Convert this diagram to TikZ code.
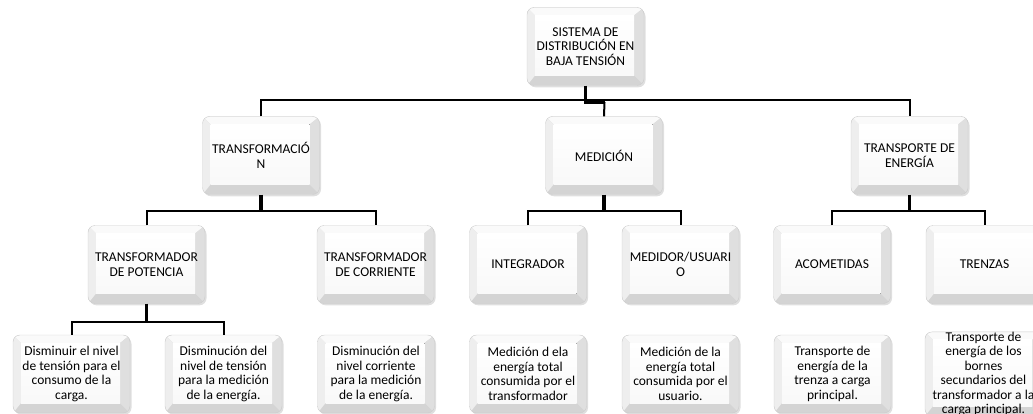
\documentclass[tikz,border=0pt]{standalone}
\usepackage{fontspec}
\setmainfont{Carlito}
\usetikzlibrary{shadows}
\tikzset{
  bev/.style={rectangle, rounded corners=7pt, minimum width=117pt, minimum height=78pt,
    inner sep=0pt, align=center, font=\fontsize{13.5}{14.5}\selectfont,
    draw=gray!40, line width=0.4pt,
    drop shadow={shadow xshift=1.5pt, shadow yshift=-1.8pt, opacity=0.25, fill=gray},
    path picture={
      \begin{scope}[sharp corners]
      \coordinate (pNW) at (path picture bounding box.north west);
      \coordinate (pNE) at (path picture bounding box.north east);
      \coordinate (pSW) at (path picture bounding box.south west);
      \coordinate (pSE) at (path picture bounding box.south east);
      \coordinate (iNW) at ([shift={(8,8)}]pNW);
      \coordinate (iNE) at ([shift={(-10,8)}]pNE);
      \coordinate (iSW) at ([shift={(8,-10)}]pSW);
      \coordinate (iSE) at ([shift={(-10,-10)}]pSE);
      \fill[gray!34] (pNW) rectangle (pSE);
      \fill[gray!4] (pNW) -- (pNE) -- (iNE) -- (iNW) -- cycle;
      \fill[gray!13] (pNW) -- (iNW) -- (iSW) -- (pSW) -- cycle;
      \fill[gray!25] (pNE) -- (pSE) -- (iSE) -- (iNE) -- cycle;
      \fill[top color=white, bottom color=gray!5] (iNW) rectangle (iSE);
      \end{scope}
    }},
  bus/.style={draw=black, line width=2pt},
  stem/.style={draw=black, line width=3.5pt},
}
\begin{document}
\begin{tikzpicture}[x=1pt,y=-1pt]
\useasboundingbox (0,0) rectangle (1033,414);
\clip (0,0) rectangle (1033,414);
% level 1
\node[bev] (root) at (585.5,46.5) {SISTEMA DE\\DISTRIBUCIÓN EN\\BAJA TENSIÓN};
% level 2
\node[bev] (trf) at (261,155.5) {TRANSFORMACIÓ\\N};
\node[bev] (med) at (604,155.5) {MEDICIÓN};
\node[bev] (trp) at (909.5,155.5) {TRANSPORTE DE\\ENERGÍA};
% level 3
\node[bev] (pot) at (146.5,264.5) {TRANSFORMADOR\\DE POTENCIA};
\node[bev] (cor) at (375.5,264.5) {TRANSFORMADOR\\DE CORRIENTE};
\node[bev] (int) at (528,264.5) {INTEGRADOR};
\node[bev] (mdu) at (680.5,264.5) {MEDIDOR/USUARI\\O};
\node[bev] (aco) at (832,264.5) {ACOMETIDAS};
\node[bev] (tre) at (984.5,264.5) {TRENZAS};
% level 4
\node[bev] (d1) at (71.5,374) {Disminuir el nivel\\de tensión para el\\consumo de la\\carga.};
\node[bev] (d2) at (223.5,374) {Disminución del\\nivel de tensión\\para la medición\\de la energía.};
\node[bev] (d3) at (376,374) {Disminución del\\nivel corriente\\para la medición\\de la energía.};
\node[bev] (d4) at (528,374) {Medición d ela\\energía total\\consumida por el\\transformador};
\node[bev] (d5) at (680.5,374) {Medición de la\\energía total\\consumida por el\\usuario.};
\node[bev] (d6) at (832.5,374) {Transporte de\\energía de la\\trenza a carga\\principal.};
\node[bev] (d7) at (983.5,374) {Transporte de\\energía de los\\bornes\\secundarios del\\transformador a la\\carga principal.};
% connectors
\draw[bus] (trf.north) -- ++(0,-16) -| (trp.north);
\draw[stem] (root.south) -- ++(0,16.5) coordinate (rj) -- ++(19,0) coordinate (rk);
\draw[bus] (rk) -- (med.north);
\draw[stem] (trf.south) -- ++(0,17);
\draw[bus] (pot.north) -- ++(0,-14) -| (cor.north);
\draw[stem] (med.south) -- ++(0,17);
\draw[bus] (int.north) -- ++(0,-14) -| (mdu.north);
\draw[stem] (trp.south) -- ++(0,17);
\draw[bus] (aco.north) -- ++(0,-14) -| (tre.north);
\draw[stem] (pot.south) -- ++(0,18);
\draw[bus] (d1.north) -- ++(0,-13) -| (d2.north);
\end{tikzpicture}
\end{document}
